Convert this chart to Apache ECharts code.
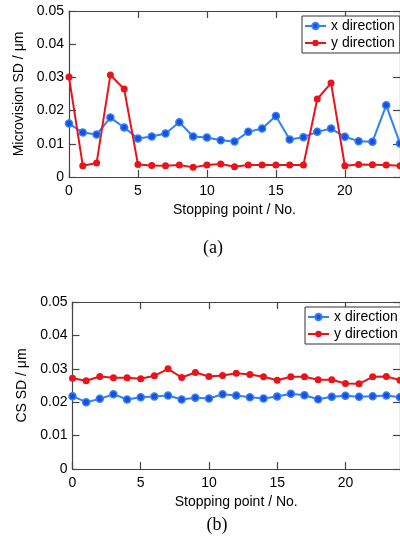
<!DOCTYPE html>
<html>
<head>
<meta charset="utf-8">
<script src="https://cdn.jsdelivr.net/npm/echarts@6/dist/echarts.min.js"></script>
<style>
html,body{margin:0;padding:0;background:#fff;}
#c{width:400px;height:546px;}
</style>
</head>
<body>
<div id="c"></div>
<script>
var stops = [0,1,2,3,4,5,6,7,8,9,10,11,12,13,14,15,16,17,18,19,20,21,22,23,24];
var xTicks = [0,5,10,15,20];
var yTicks = [0,0.01,0.02,0.03,0.04,0.05];
var seriesNames = ['x direction','y direction'];
var microX = [0.0161,0.0134,0.0128,0.0179,0.0149,0.0116,0.0122,0.0131,0.0165,0.0122,0.0119,0.0111,0.0107,0.0136,0.0146,0.0184,0.0113,0.0120,0.0136,0.0146,0.0121,0.0108,0.0106,0.0216,0.0101];
var microY = [0.0301,0.0034,0.0042,0.0307,0.0265,0.0038,0.0035,0.0034,0.0036,0.0029,0.0036,0.0039,0.0031,0.0036,0.0036,0.0036,0.0036,0.0036,0.0235,0.0283,0.0034,0.0038,0.0037,0.0036,0.0034];
var csX = [0.0218,0.0200,0.0210,0.0224,0.0208,0.0215,0.0217,0.0220,0.0208,0.0213,0.0211,0.0224,0.0220,0.0215,0.0211,0.0217,0.0225,0.0221,0.0209,0.0216,0.0219,0.0216,0.0218,0.0220,0.0215];
var csY = [0.0272,0.0264,0.0277,0.0273,0.0273,0.0270,0.0279,0.0300,0.0274,0.0289,0.0277,0.0280,0.0287,0.0283,0.0276,0.0266,0.0276,0.0276,0.0267,0.0267,0.0256,0.0255,0.0276,0.0277,0.0266];

var FONT = '"Liberation Sans", Arial, sans-serif';
var AXC = '#444';
var BLUE = '#3380f5', BLUE_IN = '#1a4fe0', RED = '#e8141c';

function pairs(vals){ return stops.map(function(s,i){ return [s, vals[i]]; }); }

function xAx(gi, pos, main){
  return {
    type:'value', gridIndex:gi, position:pos, min:stops[0], max:stops[stops.length-1], interval:xTicks[1]-xTicks[0],
    name: main ? 'Stopping point / No.' : '', nameLocation:'middle', nameGap:26,
    nameTextStyle:{fontFamily:FONT, fontSize:14, color:'#000'},
    axisLine:{show:true, onZero:false, lineStyle:{color:AXC, width:1.2}},
    axisTick:{show:true, inside:true, length:7, lineStyle:{color:AXC, width:1.2}},
    axisLabel:{show:main, margin:7, fontFamily:FONT, fontSize:14, color:'#000', showMaxLabel:false},
    splitLine:{show:false}
  };
}
function yAx(gi, pos, main, name){
  return {
    type:'value', gridIndex:gi, position:pos, min:yTicks[0], max:yTicks[yTicks.length-1], interval:yTicks[1]-yTicks[0],
    name: main ? name : '', nameLocation:'middle', nameGap:37,
    nameTextStyle:{fontFamily:FONT, fontSize:14, color:'#000'},
    axisLine:{show:true, onZero:false, lineStyle:{color:AXC, width:1.2}},
    axisTick:{show:true, inside:true, length:7, lineStyle:{color:AXC, width:1.2}},
    axisLabel:{show:main, margin:5, fontFamily:FONT, fontSize:14, color:'#000'},
    splitLine:{show:false}
  };
}
function ser(name, gi, vals, color, inner){
  return {
    name:name, type:'line', xAxisIndex:gi*2, yAxisIndex:gi*2, data:pairs(vals),
    symbol:'circle', symbolSize:7, showSymbol:true, animation:false,
    lineStyle:{color:color, width:2},
    itemStyle: inner ? {color:inner, borderColor:color, borderWidth:1.5} : {color:color, borderColor:color, borderWidth:0}
  };
}
function leg(left, top){
  return {
    data:seriesNames, orient:'vertical', left:left, top:top,
    borderColor:'#333', borderWidth:1, padding:[3,5,3,2], itemGap:3,
    itemWidth:21, itemHeight:8, backgroundColor:'#fff',
    textStyle:{fontFamily:FONT, fontSize:14, color:'#000', lineHeight:14},
    selectedMode:false
  };
}

var chart = echarts.init(document.getElementById('c'), null, {renderer:'canvas'});
chart.setOption({
  animation:false,
  backgroundColor:'#fff',
  grid:[
    {left:69, top:11, width:333, height:166},
    {left:72.5, top:302, width:333, height:167}
  ],
  xAxis:[xAx(0,'bottom',true), xAx(0,'top',false), xAx(1,'bottom',true), xAx(1,'top',false)],
  yAxis:[yAx(0,'left',true,'Microvision SD / μm'), yAx(0,'right',false,''), yAx(1,'left',true,'CS SD / μm'), yAx(1,'right',false,'')],
  legend:[leg(302,16), leg(305,307)],
  series:[
    ser(seriesNames[0],0,microX,BLUE,BLUE_IN),
    ser(seriesNames[1],0,microY,RED,null),
    ser(seriesNames[0],1,csX,BLUE,BLUE_IN),
    ser(seriesNames[1],1,csY,RED,null)
  ],
  graphic:[
    {type:'text', style:{text:'(a)', x:213, y:248, textAlign:'center', textVerticalAlign:'middle', font:'18px "Liberation Serif", "Times New Roman", serif', fill:'#000'}},
    {type:'text', style:{text:'(b)', x:217, y:525, textAlign:'center', textVerticalAlign:'middle', font:'18px "Liberation Serif", "Times New Roman", serif', fill:'#000'}}
  ]
});
</script>
</body>
</html>
